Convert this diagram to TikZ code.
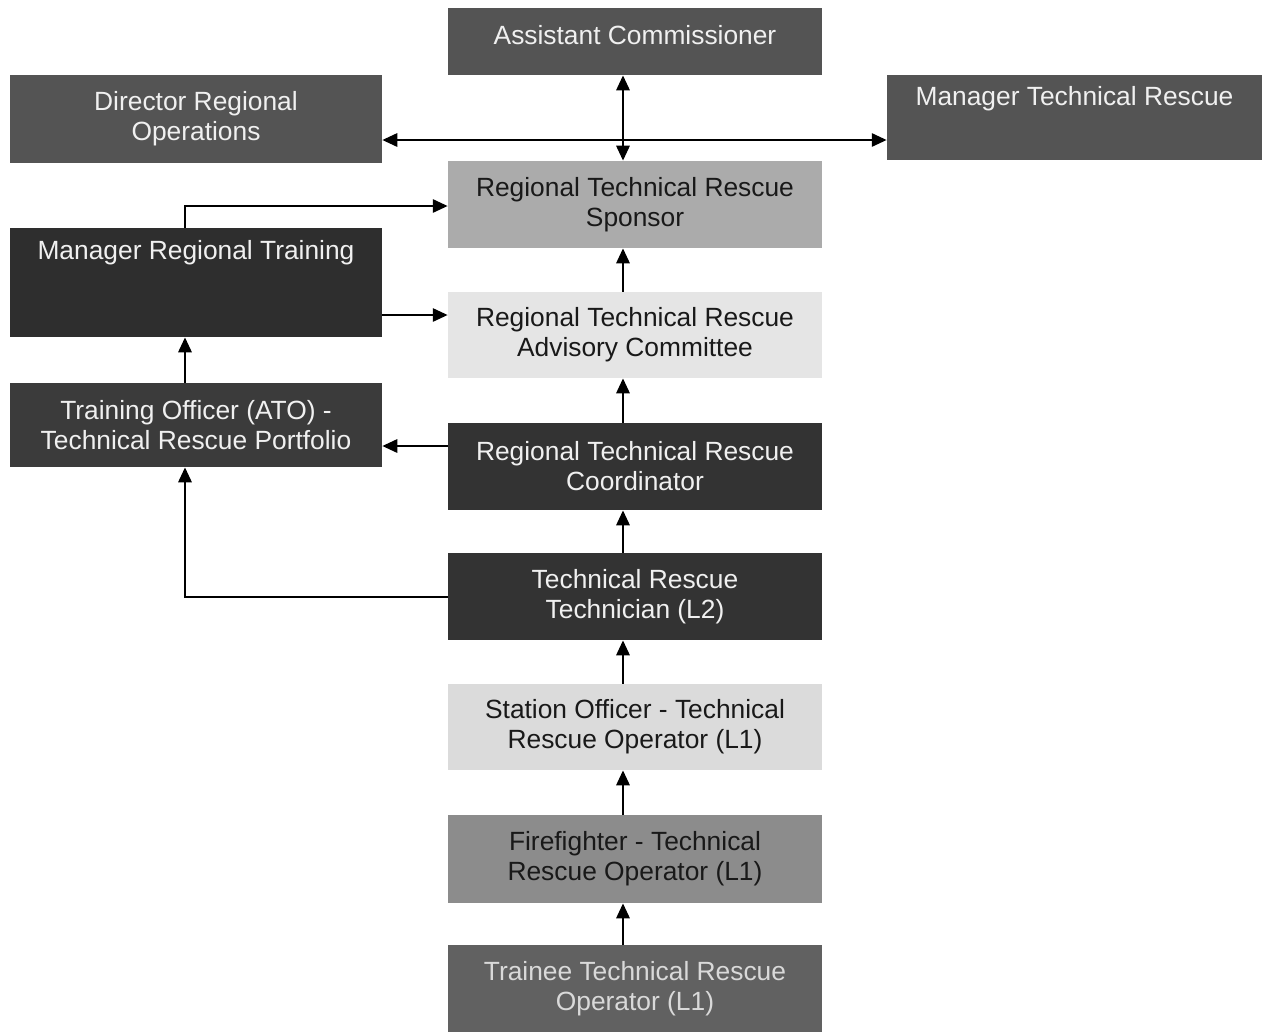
\documentclass[tikz,border=0pt]{standalone}
\usepackage{fontspec}
\setmainfont{Liberation Sans}
\usetikzlibrary{arrows.meta}
\begin{document}
\begin{tikzpicture}[x=0.02cm,y=-0.02cm,
  bx/.style={draw=none, inner sep=0pt, align=center, font=\fontsize{15}{17}\selectfont},
  colw/.style={minimum width=7.48cm},
  coll/.style={minimum width=7.44cm},
  colr/.style={minimum width=7.5cm},
  dk/.style={bx, fill=#1, text=white!94!black},
  lt/.style={bx, fill=#1, text=black!90},
  txtl/.style={inner sep=0pt, font=\fontsize{15}{17}\selectfont, text=white!94!black},
  arr/.style={line width=1.4pt, -{Triangle[length=8.5pt,width=7.5pt]}},
  darr/.style={line width=1.4pt, {Triangle[length=8.5pt,width=7.5pt]}-{Triangle[length=8.5pt,width=7.5pt]}},
  ln/.style={line width=1.4pt}
]
\useasboundingbox[fill=white] (0,0) rectangle (1269,1032);

% reference coordinates for connector routes
\coordinate (cx) at (623,0);
\coordinate (lx) at (185,0);
\coordinate (hy) at (0,140);
\coordinate (ya) at (0,206);
\coordinate (yb) at (0,315);
\coordinate (yc) at (0,446);
\coordinate (yd) at (0,597);

% boxes
\node[dk=black!67, colw, minimum height=1.34cm] (ac) at (635,41.5) {};
\node[txtl] (act) at (635,35) {Assistant Commissioner};

\node[dk=black!67, coll, minimum height=1.76cm] (dro) at (196,119) {Director Regional\\Operations};

\node[dk=black!67, colr, minimum height=1.70cm] (mtr) at (1074.5,117.5) {};
\node[txtl] (mtrt) at (1074.5,99) {Manager Technical Rescue};

\node[lt=black!33, colw, minimum height=1.74cm] (sp) at (635,204.5) {Regional Technical Rescue\\Sponsor};

\node[dk=black!82, coll, minimum height=2.18cm] (mrt) at (196,282.5) {};
\node[txtl] (mrtt) at (196,253) {Manager Regional Training};

\node[lt=black!10, colw, minimum height=1.72cm] (adv) at (635,335) {Regional Technical Rescue\\Advisory Committee};

\node[dk=black!77, coll, minimum height=1.68cm] (to) at (196,425) {Training Officer (ATO) -\\Technical Rescue Portfolio};

\node[dk=black!80, colw, minimum height=1.74cm] (co) at (635,466.5) {Regional Technical Rescue\\Coordinator};

\node[dk=black!80, colw, minimum height=1.74cm] (te) at (635,596.5) {Technical Rescue\\Technician (L2)};

\node[lt=black!14, colw, minimum height=1.72cm] (so) at (635,727) {Station Officer - Technical\\Rescue Operator (L1)};

\node[lt=black!45, colw, minimum height=1.76cm] (ff) at (635,859) {Firefighter - Technical\\Rescue Operator (L1)};

\node[dk=black!62, colw, minimum height=1.74cm, text=white!85!black] (tr) at (635,988.5) {Trainee Technical Rescue\\Operator (L1)};

% connectors
\draw[darr] (ac.south -| cx) -- (sp.north -| cx);
\draw[darr] (dro.east |- hy) -- (mtr.west |- hy);
\draw[arr] (mrt.north -| lx) |- (sp.west |- ya);
\draw[arr] (mrt.east |- yb) -- (adv.west |- yb);
\draw[arr] (adv.north -| cx) -- (sp.south -| cx);
\draw[arr] (co.north -| cx) -- (adv.south -| cx);
\draw[arr] (co.west |- yc) -- (to.east |- yc);
\draw[arr] (to.north -| lx) -- (mrt.south -| lx);
\draw[arr] (te.west |- yd) -| (to.south -| lx);
\draw[arr] (te.north -| cx) -- (co.south -| cx);
\draw[arr] (so.north -| cx) -- (te.south -| cx);
\draw[arr] (ff.north -| cx) -- (so.south -| cx);
\draw[arr] (tr.north -| cx) -- (ff.south -| cx);
\end{tikzpicture}
\end{document}
